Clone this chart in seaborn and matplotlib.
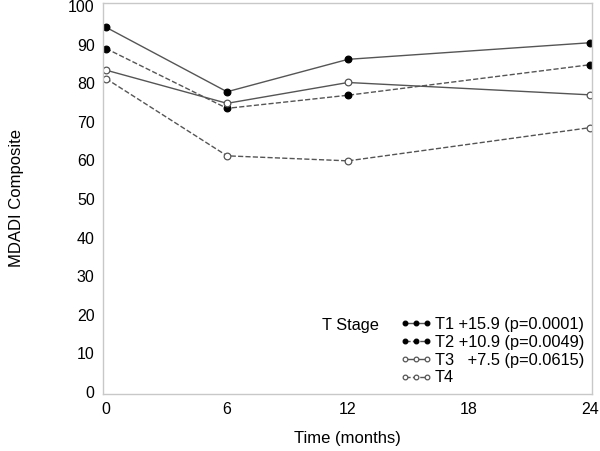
import pandas as pd
import matplotlib
matplotlib.use("Agg")
import matplotlib.pyplot as plt
import seaborn as sns

# values
months = [0, 6, 12, 24]
t1 = [94.5, 77.8, 86.2, 90.5]
t2 = [89.0, 73.5, 76.9, 84.8]
t3 = [83.4, 74.8, 80.2, 77.0]
t4 = [81.2, 61.2, 59.9, 68.5]
labels = ["T1 +15.9 (p=0.0001)", "T2 +10.9 (p=0.0049)",
          "T3   +7.5 (p=0.0615)", "T4"]
y_ticks = [0, 10, 20, 30, 40, 50, 60, 70, 80, 90, 100]
x_ticks = [0, 6, 12, 18, 24]

sns.set_style("white")
plt.rcParams["font.family"] = ["Liberation Sans", "DejaVu Sans"]
plt.rcParams["text.color"] = "black"
plt.rcParams["axes.labelcolor"] = "black"

fig = plt.figure(figsize=(6, 4.51), dpi=100)
ax = fig.add_axes([0.1717, 0.1264, 0.815, 0.867])

# style of each series: line style, marker fill, marker edge
styles = [("-", "black", "black"),
          ("--", "black", "black"),
          ("-", "white", "#555555"),
          ("--", "white", "#555555")]

handles = []
for vals, lab, (ls, mfc, mec) in zip([t1, t2, t3, t4], labels, styles):
    df = pd.DataFrame({"month": months, "score": vals})
    sns.lineplot(data=df, x="month", y="score", ax=ax, color="#555555",
                 linestyle=ls, linewidth=1.0, marker="o", markersize=4.8,
                 markerfacecolor=mfc, markeredgecolor=mec, markeredgewidth=0.9,
                 legend=False)
    handles.append(ax.lines[-1])

ax.set_xlim(-0.15, 24.1)
ax.set_ylim(-0.5, 100.8)
ax.set_xticks(x_ticks)
ax.set_yticks(y_ticks)
ax.set_xlabel("Time (months)", fontsize=12, labelpad=10)
ax.set_ylabel("MDADI Composite", fontsize=12, labelpad=32)
ax.tick_params(axis="both", labelsize=11.5, length=4, width=0.8,
               color="#aaaaaa", labelcolor="black", direction="out", pad=2)
for sp in ax.spines.values():
    sp.set_color("#c8c8c8")
    sp.set_linewidth(1.0)

leg = ax.legend(handles, labels, loc="lower left",
                bbox_to_anchor=(0.608, 0.022), frameon=False, numpoints=3,
                handlelength=1.9, handletextpad=0.2, labelspacing=0.17,
                borderpad=0, borderaxespad=0, markerscale=0.7,
                prop={"size": 11.8})
ax.text(0.447, 0.176, "T Stage", transform=ax.transAxes, fontsize=11.8,
        va="center", ha="left")

plt.savefig("out.png", dpi=100)
